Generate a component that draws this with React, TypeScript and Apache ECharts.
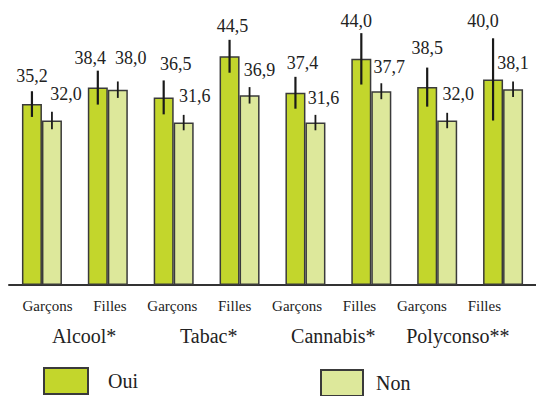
import React, { useEffect, useRef } from "react";
import * as echarts from "echarts";

const categories = ["Garçons", "Filles", "Garçons", "Filles", "Garçons", "Filles", "Garçons", "Filles"];
const groups = ["Alcool*", "Tabac*", "Cannabis*", "Polyconso**"];
const ouiValues = [35.2, 38.4, 36.5, 44.5, 37.4, 44.0, 38.5, 40.0];
const nonValues = [32.0, 38.0, 31.6, 36.9, 31.6, 37.7, 32.0, 38.1];
const ouiErrors = [2.5, 3.3, 3.3, 3.2, 3.1, 5.0, 3.8, 8.0];
const nonErrors = [1.7, 1.6, 1.5, 1.6, 1.5, 1.55, 1.5, 1.5];

// label nudges (layout only)
const ouiLabelNudge = [[0, -28], [-7.5, -30], [12, -33], [3, -30], [7, -30], [-5, -38], [0, -39], [-10, -58]];
const nonLabelNudge = [[14, -26.5], [13, -32], [11, -27], [10, -25], [8, -25], [8, -24], [11, -26.5], [0, -26]];

const FONT = "Times New Roman";
const OUI_COLOR = "#c3d62c";
const NON_COLOR = "#dde89b";
const BORDER = "#3a3a3a";
const TEXT = "#222";

const fmt = (v: number) => v.toFixed(1).replace(".", ",");

export default function App() {
  const ref = useRef<HTMLDivElement>(null);
  useEffect(() => {
    if (!ref.current) return;
    const chart = echarts.init(ref.current, null, { renderer: "svg" });

    const barData = (vals: number[], nudges: number[][]) =>
      vals.map((v, i) => ({
        value: v,
        label: { offset: nudges[i] },
      }));

    const errData = (vals: number[], errs: number[]) => vals.map((v, i) => [i, v, errs[i]]);

    const errSeries = (name: string, vals: number[], errs: number[], dx: number, lw: number) => ({
      type: "custom",
      name,
      xAxisIndex: 0,
      yAxisIndex: 0,
      z: 5,
      silent: true,
      encode: { x: 0, y: 1 },
      data: errData(vals, errs),
      renderItem: (params: any, api: any) => {
        const i = api.value(0);
        const v = api.value(1);
        const e = api.value(2);
        const t = api.coord([i, v + e]);
        const b = api.coord([i, v - e]);
        return {
          type: "line",
          shape: { x1: t[0] + dx, y1: t[1], x2: b[0] + dx, y2: b[1] },
          style: { stroke: "#1a1a1a", lineWidth: lw },
        };
      },
    });

    const labelCommon = {
      show: true,
      position: ["50%", 0],
      align: "center",
      verticalAlign: "middle",
      fontSize: 18,
      fontFamily: FONT,
      color: TEXT,
      formatter: (p: any) => fmt(p.value),
    };

    chart.setOption({
      animation: false,
      textStyle: { fontFamily: FONT },
      grid: [
        { left: 9, right: -5, top: 28, bottom: 111 },
        { left: 16.3, right: 20.5, top: 285, bottom: 110 },
        { left: 21.8, right: 15.8, top: 285, bottom: 110 },
      ],
      xAxis: [
        {
          type: "category",
          gridIndex: 0,
          data: categories,
          axisLine: { show: true, lineStyle: { color: "#333", width: 2 } },
          axisTick: { show: false },
          axisLabel: { show: false },
        },
        {
          type: "category",
          gridIndex: 1,
          data: categories,
          axisLine: { show: false },
          axisTick: { show: false },
          axisLabel: { interval: 0, margin: 12, fontSize: 15, color: TEXT, fontFamily: FONT },
        },
        {
          type: "category",
          gridIndex: 2,
          data: groups,
          axisLine: { show: false },
          axisTick: { show: false },
          axisLabel: { interval: 0, margin: 40, fontSize: 20, color: TEXT, fontFamily: FONT },
        },
      ],
      yAxis: [
        { type: "value", gridIndex: 0, min: 0, max: 50, show: false },
        { type: "value", gridIndex: 1, show: false },
        { type: "value", gridIndex: 2, show: false },
      ],
      legend: [
        {
          data: ["Oui"],
          left: 43,
          top: 367,
          padding: 0,
          itemWidth: 44,
          itemHeight: 26,
          icon: "rect",
          textStyle: { fontSize: 20, color: TEXT, fontFamily: FONT, padding: [0, 0, 0, 15] },
        },
        {
          data: ["Non"],
          left: 320,
          top: 369,
          padding: 0,
          itemWidth: 42,
          itemHeight: 26,
          icon: "rect",
          textStyle: { fontSize: 20, color: TEXT, fontFamily: FONT, padding: [0, 0, 0, 8] },
        },
      ],
      series: [
        {
          name: "Oui",
          type: "bar",
          xAxisIndex: 0,
          yAxisIndex: 0,
          barWidth: 20,
          barGap: "0%",
          itemStyle: { color: OUI_COLOR, borderColor: BORDER, borderWidth: 1.5 },
          label: labelCommon,
          data: barData(ouiValues, ouiLabelNudge),
        },
        {
          name: "Non",
          type: "bar",
          xAxisIndex: 0,
          yAxisIndex: 0,
          barWidth: 20,
          barGap: "0%",
          itemStyle: { color: NON_COLOR, borderColor: BORDER, borderWidth: 1.5 },
          label: labelCommon,
          data: barData(nonValues, nonLabelNudge),
        },
        errSeries("errOui", ouiValues, ouiErrors, -10, 2.2),
        errSeries("errNon", nonValues, nonErrors, 10, 1.8),
      ],
    });
    return () => chart.dispose();
  }, []);
  return <div ref={ref} style={{ position: "absolute", left: 0, top: 0, width: 536, height: 396 }} />;
}
